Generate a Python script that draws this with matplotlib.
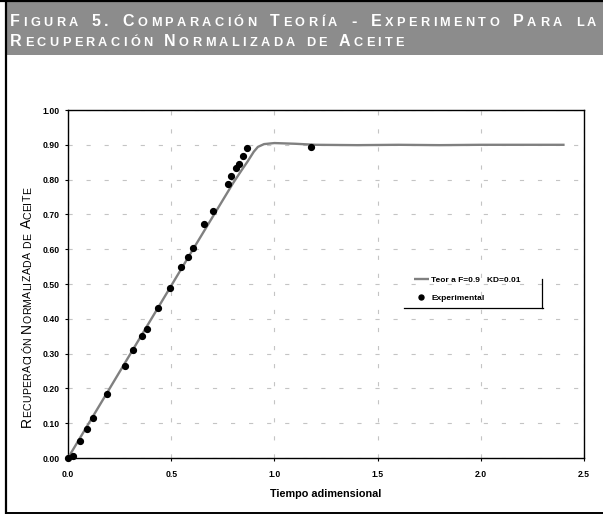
import matplotlib
matplotlib.use("Agg")
import matplotlib.pyplot as plt
from matplotlib.font_manager import FontProperties
from matplotlib.transforms import IdentityTransform
from matplotlib.lines import Line2D
from matplotlib.patches import Rectangle

plt.rcParams['font.family'] = ['Liberation Sans', 'DejaVu Sans']
plt.rcParams['lines.scale_dashes'] = False

# ---------------- data ----------------
theory_x = [0.0, 0.2, 0.4, 0.6, 0.8, 0.84, 0.87, 0.90, 0.92, 0.95, 1.00, 1.10, 1.20,
            1.40, 1.60, 1.80, 2.00, 2.20, 2.406]
theory_y = [0.0, 0.198, 0.396, 0.594, 0.790, 0.826, 0.852, 0.880, 0.894, 0.902, 0.905,
            0.903, 0.900, 0.899, 0.900, 0.899, 0.900, 0.900, 0.900]

exp_x = [0.0, 0.022, 0.056, 0.090, 0.122, 0.190, 0.275, 0.316, 0.359, 0.383, 0.438,
         0.496, 0.547, 0.581, 0.605, 0.657, 0.704, 0.776, 0.789, 0.814, 0.827, 0.850,
         0.865, 1.176]
exp_y = [0.0, 0.005, 0.048, 0.084, 0.116, 0.183, 0.264, 0.311, 0.350, 0.371, 0.430,
         0.489, 0.550, 0.579, 0.604, 0.671, 0.711, 0.788, 0.809, 0.832, 0.844, 0.869,
         0.890, 0.895]

x_ticks = [0.0, 0.5, 1.0, 1.5, 2.0, 2.5]
y_ticks = [0.0, 0.1, 0.2, 0.3, 0.4, 0.5, 0.6, 0.7, 0.8, 0.9, 1.0]

series_labels = ["Teor a F=0.9   KD=0.01", "Experimental"]
title_lines = ["Figura 5. Comparación Teoría - Experimento Para la",
               "Recuperación Normalizada de Aceite"]
y_label = "Recuperación Normalizada de Aceite"
x_label = "Tiempo adimensional"

# ---------------- figure ----------------
W, H = 603, 514
fig = plt.figure(figsize=(W / 100, H / 100), dpi=100)
fig.patch.set_facecolor('white')

def fx(px):
    return px / W

def fy(py):
    return 1 - py / H

ax = fig.add_axes([fx(68), fy(458), fx(584) - fx(68), fy(110) - fy(458)])

ax.plot(theory_x, theory_y, color='#808080', lw=1.7, label=series_labels[0],
        solid_capstyle='butt', zorder=3)
ax.plot(exp_x, exp_y, 'o', color='black', ms=4.2, label=series_labels[1],
        zorder=4, clip_on=False)

ax.set_xlim(0, 2.5)
ax.set_ylim(0, 1.0)
ax.set_xticks(x_ticks)
ax.set_yticks(y_ticks)
ax.set_xticklabels([f"{v:.1f}" for v in x_ticks])
ax.set_yticklabels([f"{v:.2f}" for v in y_ticks])
ax.tick_params(axis='both', direction='out', length=2.5, width=0.8,
               labelsize=6.2, pad=3.5)
for lab in ax.get_xticklabels() + ax.get_yticklabels():
    lab.set_fontweight('bold')
ax.tick_params(axis='x', pad=6)
for s in ax.spines.values():
    s.set_linewidth(1.0)
    s.set_color('black')
ax.grid(True, color='#c4c4c4', lw=0.8, linestyle=(0, (3, 10)))
ax.set_axisbelow(True)

ax.set_xlabel(x_label, fontsize=7.8, fontweight='bold', labelpad=7)

leg = ax.legend(loc='upper left', bbox_to_anchor=(fx(411), fy(274)),
                bbox_transform=fig.transFigure, frameon=False,
                prop=FontProperties(family='Liberation Sans', weight='bold', size=6.0),
                handlelength=1.8, handletextpad=0.3, labelspacing=1.15,
                borderpad=0.3, borderaxespad=0, numpoints=1, markerscale=0.85)
# legend shadow edges
fig.add_artist(Line2D([fx(542), fx(542)], [fy(279), fy(308)], color='black', lw=0.9,
                      transform=fig.transFigure))
fig.add_artist(Line2D([fx(404), fx(542.5)], [fy(308), fy(308)], color='black', lw=0.9,
                      transform=fig.transFigure))

# ---------------- frame & title band ----------------
fig.add_artist(Rectangle((fx(7), fy(55)), 1 - fx(7), fy(2) - fy(55),
                         transform=fig.transFigure, facecolor='#8c8c8c',
                         edgecolor='none', zorder=0))
fig.add_artist(Line2D([0, 1], [fy(1), fy(1)], color='black', lw=1.6,
                      transform=fig.transFigure))
fig.add_artist(Line2D([fx(6), fx(6)], [fy(0), fy(513)], color='black', lw=1.6,
                      transform=fig.transFigure))
fig.add_artist(Line2D([fx(6), 1], [fy(512.5), fy(512.5)], color='black', lw=1.4,
                      transform=fig.transFigure))

renderer = fig.canvas.get_renderer()

def text_w(s, prop):
    return renderer.get_text_width_height_descent(s, prop, ismath=False)[0]

def adv(c, prop):
    return text_w('H' + c + 'H', prop) - text_w('HH', prop)

def glyph_list(text, big, small, weight):
    pb = FontProperties(family='Liberation Sans', size=big, weight=weight)
    ps = FontProperties(family='Liberation Sans', size=small, weight=weight)
    return [(c.upper(), ps) if c.islower() else (c, pb) for c in text]

def small_caps(x, y, text, big, small, color, weight='normal', rotation=0,
               target=None, tracking=None, wordspace=0.0):
    """Draw small-caps text glyph by glyph.  If target is given and tracking is
    None, tracking is fitted; if both are given, word spacing is fitted
    (justified line)."""
    glyphs = glyph_list(text, big, small, weight)
    advs = [adv(c, p) for c, p in glyphs]
    nat = sum(advs[:-1]) + text_w(glyphs[-1][0], glyphs[-1][1])
    nsp = text.count(' ')
    if target is not None and tracking is None:
        tracking = (target - nat - nsp * wordspace) / (len(glyphs) - 1)
    elif target is not None and nsp > 0:
        wordspace = (target - nat - tracking * (len(glyphs) - 1)) / nsp
    if tracking is None:
        tracking = 0.0
    pos = 0.0
    for (c, p), a in zip(glyphs, advs):
        if c != ' ':
            if rotation == 0:
                px, py = x + pos, H - y
            else:
                px, py = x, H - y + pos
            fig.text(px, py, c, transform=IdentityTransform(), fontproperties=p,
                     color=color, ha='left', va='baseline', rotation=rotation,
                     rotation_mode='anchor')
            pos += a + tracking
        else:
            pos += a + tracking + wordspace
    return tracking

tw = 'bold'
B0, S0 = 11.5, 9.2
# last (unjustified) line sets the letter tracking, first line is justified
tr = small_caps(10, 46, title_lines[1], B0, S0, 'white', weight=tw, target=394,
                wordspace=0.0)
small_caps(10, 26, title_lines[0], B0, S0, 'white', weight=tw, target=586, tracking=tr)

small_caps(31, 427, y_label, 10.0, 7.6, 'black', rotation=90, target=240)

fig.savefig('out.png', dpi=100)
